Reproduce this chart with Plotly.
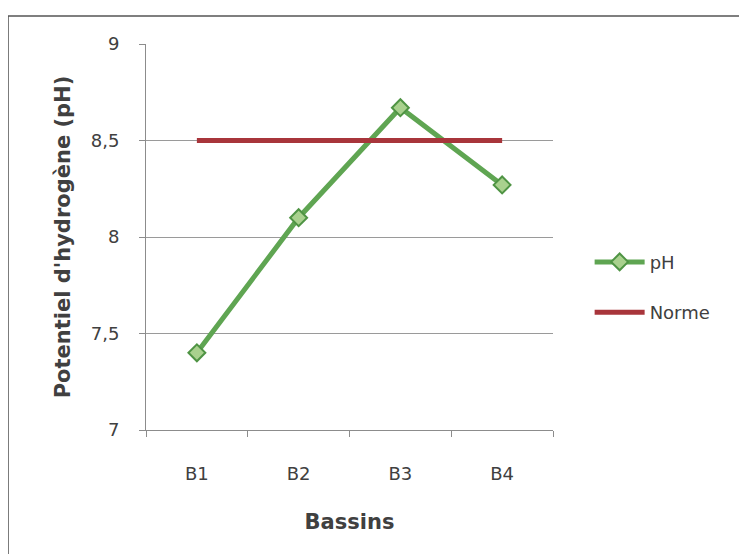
import plotly.graph_objects as go

categories = ["B1", "B2", "B3", "B4"]
ph_values = [7.40, 8.10, 8.67, 8.27]
norme_values = [8.5, 8.5, 8.5, 8.5]
y_ticks = [7, 7.5, 8, 8.5, 9]

fig = go.Figure()
fig.add_trace(go.Scatter(
    x=categories, y=ph_values, name="pH", mode="lines+markers",
    legendgroup="a",
    line=dict(color="#5fa552", width=5),
    marker=dict(symbol="diamond", size=13, color="#a9d18e",
                line=dict(color="#4f9444", width=2)),
))
fig.add_trace(go.Scatter(
    x=categories, y=norme_values, name="Norme", mode="lines",
    legendgroup="b",
    line=dict(color="#a8353b", width=5),
))

font_family = "DejaVu Sans, sans-serif"
fig.update_layout(
    width=739, height=546,
    margin=dict(l=138, r=194, t=36, b=124),
    paper_bgcolor="white", plot_bgcolor="white",
    separators=", ",
    font=dict(family=font_family, size=18, color="#404040"),
    showlegend=True,
    legend=dict(x=1.09, y=0.37, xanchor="left", yanchor="middle",
                font=dict(size=18, color="#404040"),
                itemwidth=50, tracegroupgap=24),
    xaxis=dict(
        type="category", range=[-0.5, 3.5],
        showline=True, linecolor="#8c8c8c", linewidth=1,
        ticks="outside", tickson="boundaries", ticklen=6, tickcolor="#8c8c8c",
        showgrid=False,
        tickfont=dict(size=18, color="#404040"),
        ticklabelstandoff=27,
        title=dict(text="<b>Bassins</b>", font=dict(size=21, color="#404040"), standoff=31),
    ),
    yaxis=dict(
        range=[7, 9], tickvals=y_ticks,
        showline=True, linecolor="#8c8c8c", linewidth=1,
        ticks="outside", ticklen=6, tickcolor="#8c8c8c",
        showgrid=True, gridcolor="#9a9a9a", gridwidth=1,
        tickfont=dict(size=18, color="#404040"),
        ticklabelstandoff=16,
        title=dict(text="<b>Potentiel d'hydrogène (pH)</b>", font=dict(size=21, color="#404040"), standoff=14),
        zeroline=False,
    ),
    shapes=[dict(type="rect", xref="paper", yref="paper",
                 x0=-0.339, x1=2.0, y0=-0.6, y1=1.0725,
                 line=dict(color="#555555", width=1.5), fillcolor="rgba(0,0,0,0)", layer="below")],
)

fig.write_html("out.html")
